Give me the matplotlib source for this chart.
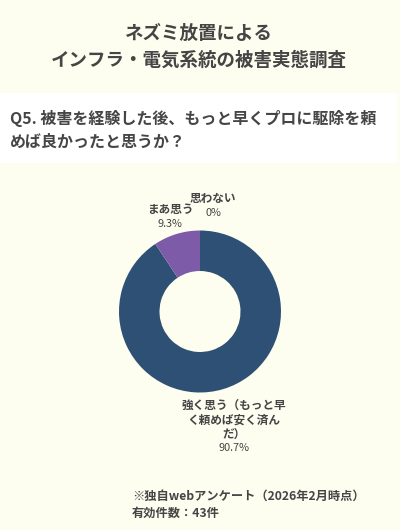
import matplotlib
matplotlib.use("Agg")
import matplotlib.pyplot as plt
from matplotlib.patches import Rectangle

plt.rcParams['font.family'] = ['Noto Sans CJK JP', 'DejaVu Sans']

# ── data ────────────────────────────────────────────────────────────────
TITLE = "ネズミ放置による\nインフラ・電気系統の被害実態調査"
QUESTION = "Q5. 被害を経験した後、もっと早くプロに駆除を頼\nめば良かったと思うか？"
labels = ["強く思う（もっと早\nく頼めば安く済ん\nだ）", "まあ思う", "思わない"]
values = [90.7, 9.3, 0.0]
colors = ["#2E5075", "#7E5BA8", "#C9C9C9"]
FOOTER = "※独自webアンケート（2026年2月時点）\n有効件数：43件"

BG = "#FDFDF0"
TXT = "#454545"
W, H = 400, 530

fig = plt.figure(figsize=(W / 100, H / 100), dpi=100, facecolor=BG)


def fx(x):
    return x / W


def fy(y):
    return 1 - y / H


# white band behind the question
fig.patches.append(Rectangle((0, fy(163)), fx(397), (163 - 93) / H,
                             transform=fig.transFigure, facecolor="white",
                             edgecolor="none", zorder=0))

fig.text(fx(199), fy(47), TITLE, ha="center", va="center", fontsize=13.3,
         fontweight="bold", color=TXT, linespacing=1.5)
fig.text(fx(10), fy(130), QUESTION, ha="left", va="center", fontsize=11.5,
         fontweight="bold", color=TXT, linespacing=1.55)

# donut: center (200, 311.5), radius 81 px
cx, cy, r = 200, 311.5, 81
ax = fig.add_axes([fx(cx - r), fy(cy + r), 2 * r / W, 2 * r / H])
ax.set_facecolor("none")
ax.pie(values, colors=colors, startangle=90, counterclock=False, radius=1,
       wedgeprops=dict(width=0.5, edgecolor="none"))
ax.set_xlim(-1, 1)
ax.set_ylim(-1, 1)
ax.axis("off")

# labels
fig.text(fx(234), fy(420), labels[0], ha="center", va="center", fontsize=8.4,
         fontweight="bold", color=TXT, linespacing=1.12)
fig.text(fx(234), fy(448), f"{values[0]}%", ha="center", va="center",
         fontsize=7.8, color=TXT)
fig.text(fx(170), fy(210), labels[1], ha="center", va="center", fontsize=8.4,
         fontweight="bold", color=TXT)
fig.text(fx(170), fy(224), f"{values[1]}%", ha="center", va="center",
         fontsize=7.8, color=TXT)
fig.text(fx(213), fy(198), labels[2], ha="center", va="center", fontsize=8.4,
         fontweight="bold", color=TXT)
fig.text(fx(213), fy(213), f"{values[2]:.0f}%", ha="center", va="center",
         fontsize=7.8, color=TXT)

fig.text(fx(132), fy(505), FOOTER, ha="left", va="center", fontsize=8.8,
         fontweight="bold", color=TXT, linespacing=1.4)

fig.savefig("out.png", dpi=100, facecolor=BG)
